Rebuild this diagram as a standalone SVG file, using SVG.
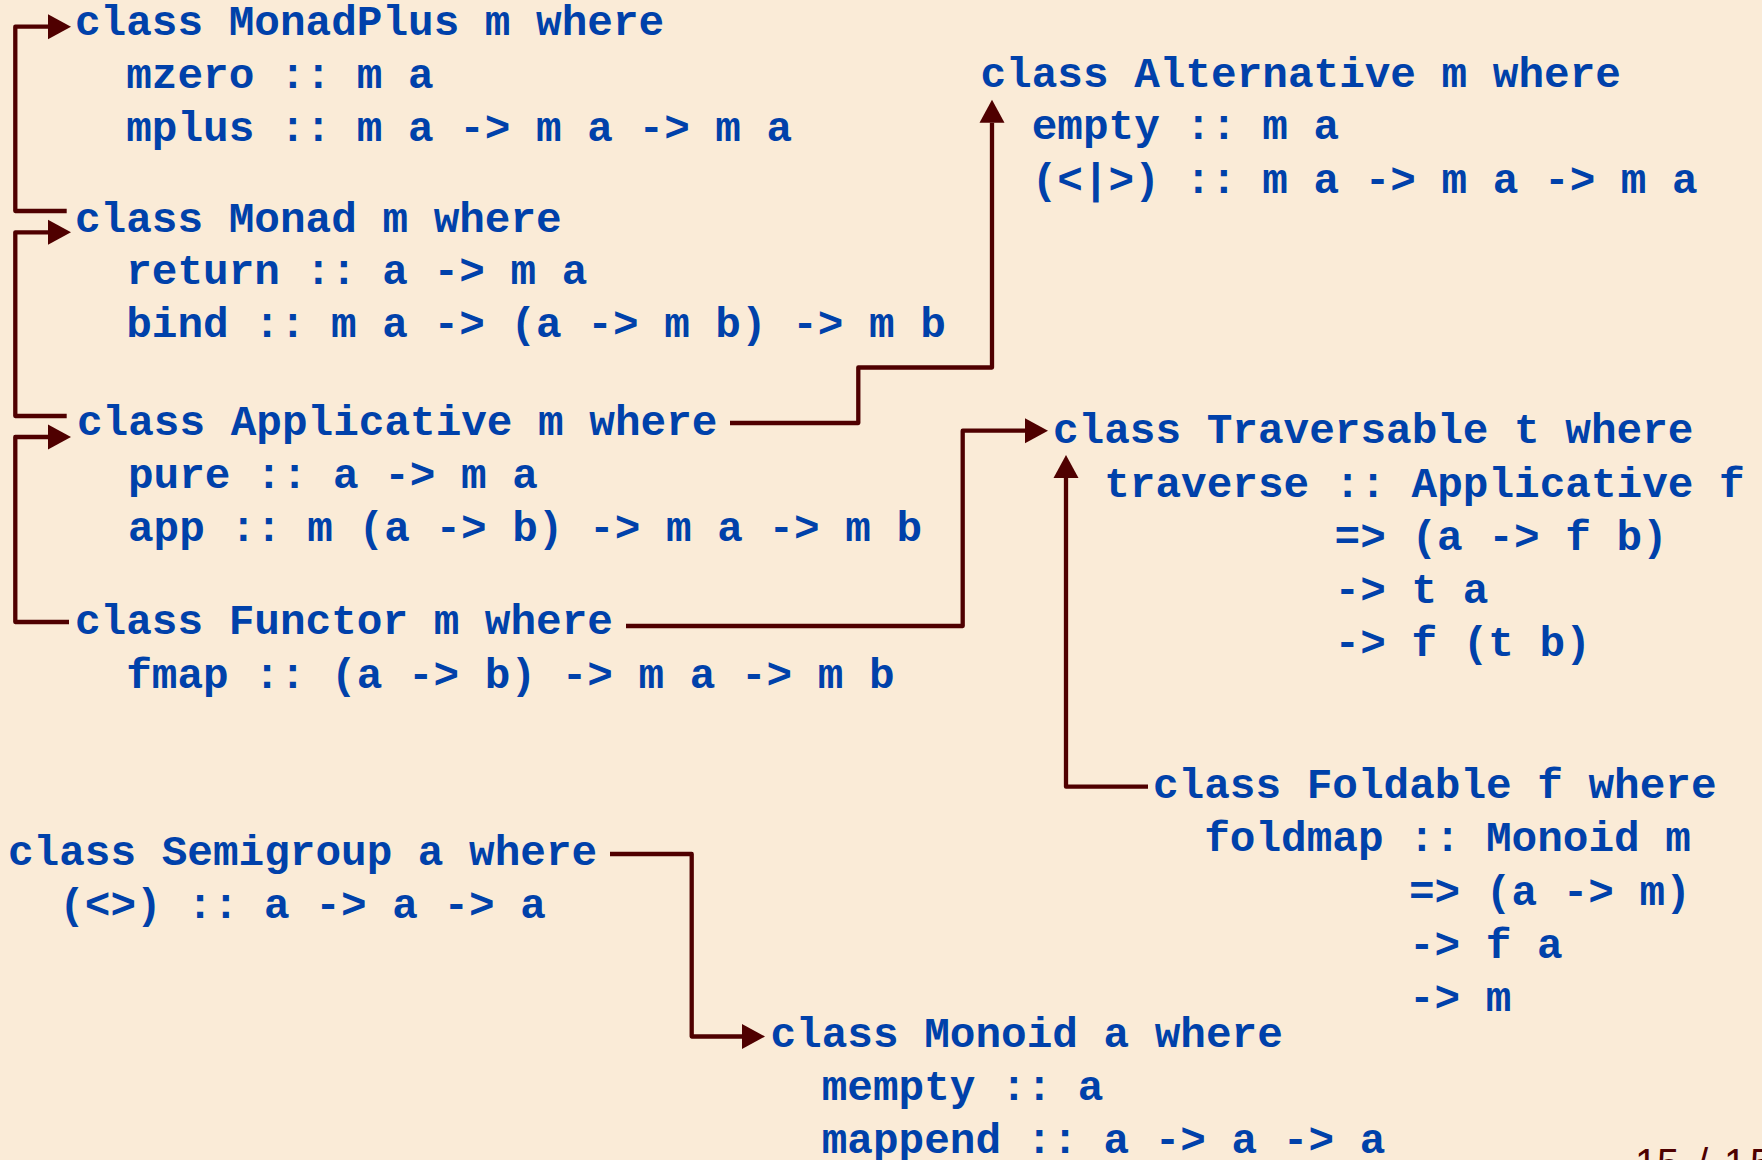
<svg xmlns="http://www.w3.org/2000/svg" width="1762" height="1160" viewBox="0 0 1762 1160">
<style>
.t{font-family:"Liberation Mono","Courier New",monospace;font-weight:bold;font-size:42.7px;fill:#0041aa}
.c{fill:none;stroke:#4f0000;stroke-width:4.3;stroke-linejoin:round}
.pg{font-family:"Liberation Sans",Arial,sans-serif;font-size:40px;fill:#4f0000}
</style>
<defs>
<marker id="ah" markerUnits="userSpaceOnUse" markerWidth="24" markerHeight="26" refX="0" refY="12.5" orient="auto" overflow="visible">
<path d="M0,0 L23,12.5 L0,25 z" fill="#4f0000"/>
</marker>
</defs>
<rect width="1762" height="1160" fill="#faebd7"/>
<g id="connectors">
<path class="c" marker-end="url(#ah)" d="M66.7,211 H15.3 V26.7 H48"/>
<path class="c" marker-end="url(#ah)" d="M66.7,416 H15.3 V232.3 H48"/>
<path class="c" marker-end="url(#ah)" d="M69,622 H15.3 V437 H48"/>
<path class="c" marker-end="url(#ah)" d="M730,423 H858.3 V367.5 H992 V122.7"/>
<path class="c" marker-end="url(#ah)" d="M626,626 H962.7 V430.7 H1025"/>
<path class="c" marker-end="url(#ah)" d="M1148,786.7 H1066 V478"/>
<path class="c" marker-end="url(#ah)" d="M610,854 H691.7 V1036.5 H742"/>
</g>
<g id="monadplus">
<text class="t" x="75" y="35">class MonadPlus m where</text>
<text class="t" x="126.2" y="88">mzero :: m a</text>
<text class="t" x="126.2" y="140.5">mplus :: m a -&gt; m a -&gt; m a</text>
</g>
<g id="monad">
<text class="t" x="75" y="231.5">class Monad m where</text>
<text class="t" x="126.2" y="284">return :: a -&gt; m a</text>
<text class="t" x="126.2" y="336.7">bind :: m a -&gt; (a -&gt; m b) -&gt; m b</text>
</g>
<g id="applicative">
<text class="t" x="77" y="434.5">class Applicative m where</text>
<text class="t" x="128" y="487.5">pure :: a -&gt; m a</text>
<text class="t" x="128" y="541">app :: m (a -&gt; b) -&gt; m a -&gt; m b</text>
</g>
<g id="functor">
<text class="t" x="75" y="634">class Functor m where</text>
<text class="t" x="126.2" y="687.5">fmap :: (a -&gt; b) -&gt; m a -&gt; m b</text>
</g>
<g id="semigroup">
<text class="t" x="8" y="865">class Semigroup a where</text>
<text class="t" x="59.2" y="918">(&lt;&gt;) :: a -&gt; a -&gt; a</text>
</g>
<g id="alternative">
<text class="t" x="980.5" y="86.5">class Alternative m where</text>
<text class="t" x="1031.7" y="139">empty :: m a</text>
<text class="t" x="1031.7" y="193">(&lt;|&gt;) :: m a -&gt; m a -&gt; m a</text>
</g>
<g id="traversable">
<text class="t" x="1053" y="443">class Traversable t where</text>
<text class="t" x="1104.2" y="496.5">traverse :: Applicative f</text>
<text class="t" x="1334.6" y="549.5">=&gt; (a -&gt; f b)</text>
<text class="t" x="1334.6" y="602.5">-&gt; t a</text>
<text class="t" x="1334.6" y="656">-&gt; f (t b)</text>
</g>
<g id="foldable">
<text class="t" x="1153" y="797.5">class Foldable f where</text>
<text class="t" x="1204.2" y="851">foldmap :: Monoid m</text>
<text class="t" x="1409" y="904.5">=&gt; (a -&gt; m)</text>
<text class="t" x="1409" y="957.5">-&gt; f a</text>
<text class="t" x="1409" y="1010.5">-&gt; m</text>
</g>
<g id="monoid">
<text class="t" x="770.5" y="1047">class Monoid a where</text>
<text class="t" x="821.7" y="1100">mempty :: a</text>
<text class="t" x="821.7" y="1152.5">mappend :: a -&gt; a -&gt; a</text>
</g>
<g id="page">
<text class="pg" y="1177"><tspan x="1635 1657 1697 1724 1750">15/15</tspan></text>
</g>
</svg>
